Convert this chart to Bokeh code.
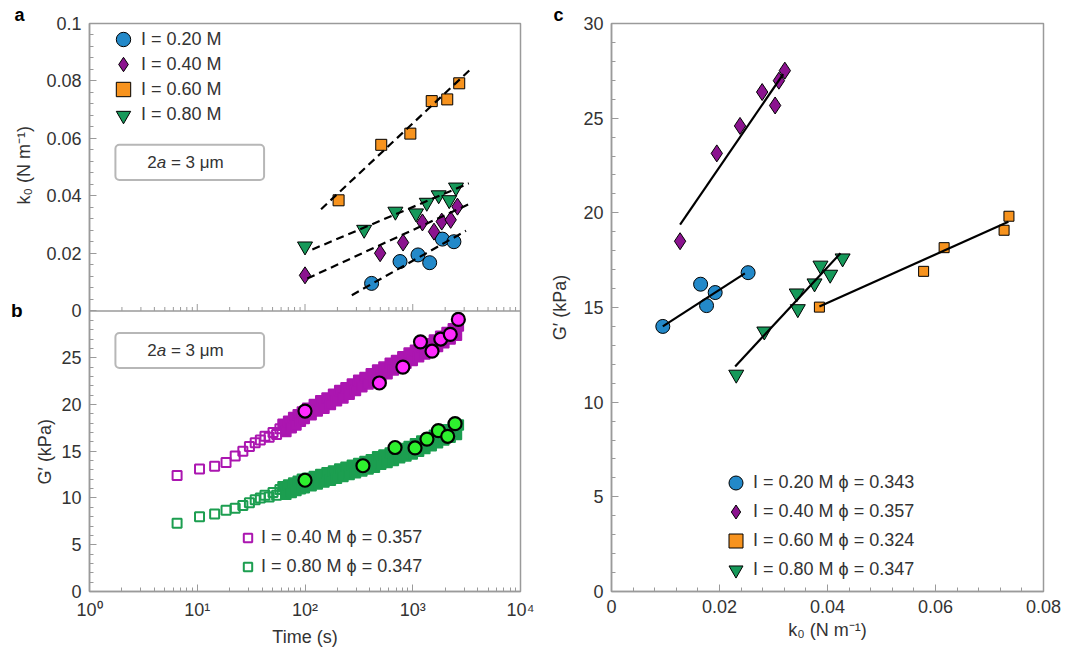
import math
from bokeh.plotting import figure
from bokeh.models import (Range1d, FixedTicker, CustomJSTickFormatter, Legend, LegendItem,
                          BoxAnnotation, Label, Span, LinearAxis, Title)
from bokeh.layouts import row
from bokeh.embed import file_html
from bokeh.resources import INLINE

# ----------------------------------------------------------------- data
# panel a : k0 (N/m) versus time (s)
a_t_020 = [415, 762, 1119, 1436, 1884, 2410]
a_k_020 = [0.0096, 0.0172, 0.0195, 0.0168, 0.0250, 0.0241]
a_t_040 = [100, 498, 813, 1230, 1575, 1858, 2249, 2600]
a_k_040 = [0.0124, 0.0201, 0.0238, 0.0308, 0.0276, 0.0311, 0.0317, 0.0363]
a_t_060 = [205, 510, 950, 1500, 2090, 2700]
a_k_060 = [0.0385, 0.0578, 0.0617, 0.0730, 0.0736, 0.0792]
a_t_080 = [100, 354, 690, 1072, 1350, 1740, 2180, 2520]
a_k_080 = [0.0225, 0.0283, 0.0346, 0.0340, 0.0377, 0.0403, 0.0386, 0.0430]
# panel a : dashed fits (end points)
fit_a_t_020 = [272, 3119]
fit_a_k_020 = [0.0055, 0.0279]
fit_a_t_040 = [105, 3484]
fit_a_k_040 = [0.0113, 0.0375]
fit_a_t_060 = [141, 3605]
fit_a_k_060 = [0.0354, 0.0848]
fit_a_t_080 = [117, 3312]
fit_a_k_080 = [0.0214, 0.0444]

# panel b : G' (kPa) versus time (s), bulk rheology (open squares)
b_time_early = [6.5, 10.5, 14.5, 18.5, 22.5, 26.5, 30.5, 34.5, 38.5, 42.5, 46.5, 50.5,
                54.5, 58.5]
b_g_040_early = [12.4, 13.1, 13.4, 13.8, 14.5, 15.0, 15.5, 15.9, 16.2, 16.6, 16.5, 17.0,
                 16.8, 17.4]
b_g_080_early = [7.3, 8.0, 8.3, 8.7, 8.9, 9.2, 9.5, 9.8, 10.0, 10.3, 10.1, 10.6,
                 10.3, 10.9]
b_time_dense = [62.5, 66.5, 70.5, 74.5, 78.5, 82.5, 86.5, 90.5, 94.5, 98.5, 106, 114,
                122, 130, 140, 150, 160, 172, 184, 196, 210, 225, 240, 257, 275, 294, 315,
                337, 360, 385, 412, 441, 472, 505, 540, 578, 618, 661, 707, 756, 809, 865,
                925, 990, 1059, 1133, 1212, 1296, 1387, 1484, 1587, 1698, 1816, 1943, 2079,
                2224, 2379, 2545, 2650]
b_g_040_dense = [17.9, 17.1, 18.2, 17.5, 18.6, 17.8, 18.9, 18.2, 19.2, 18.5,
                 19.6, 18.9, 20.0, 19.3, 20.4, 19.6, 20.7, 20.0, 21.1, 20.4, 21.5, 20.7,
                 21.8, 21.1, 22.2, 21.5, 22.6, 21.9, 22.9, 22.2, 23.3, 22.6, 23.7, 23.0,
                 24.0, 23.3, 24.4, 23.7, 24.7, 24.0, 25.1, 24.4, 25.5, 24.7, 25.8, 25.1,
                 26.2, 25.4, 26.5, 25.8, 26.9, 26.2, 27.3, 26.6, 27.7, 27.0, 28.1, 27.4,
                 28.4]
b_g_080_dense = [11.2, 10.4, 11.4, 10.6, 11.6, 10.8, 11.8, 11.0, 12.0, 11.1,
                 12.1, 11.3, 12.3, 11.5, 12.5, 11.7, 12.7, 11.9, 12.9, 12.1, 13.1, 12.3,
                 13.3, 12.5, 13.5, 12.7, 13.7, 12.9, 13.9, 13.1, 14.1, 13.3, 14.4, 13.6,
                 14.6, 13.8, 14.8, 14.0, 15.1, 14.3, 15.3, 14.5, 15.5, 14.7, 15.8, 15.0,
                 16.1, 15.3, 16.4, 15.6, 16.7, 15.9, 17.0, 16.2, 17.3, 16.5, 17.6, 16.8,
                 17.8]
# panel b : G' from microrheology (filled circles)
b_ct_040 = [100, 490, 810, 1180, 1510, 1820, 2230, 2650]
b_cg_040 = [19.3, 22.3, 24.0, 26.7, 25.7, 27.0, 27.5, 29.1]
b_ct_080 = [100, 345, 685, 1050, 1355, 1730, 2110, 2470]
b_cg_080 = [11.9, 13.45, 15.4, 15.35, 16.3, 17.2, 16.6, 17.95]

# panel c : G' (kPa) versus k0 (N/m)
c_k_020 = [0.0095, 0.0165, 0.0176, 0.0192, 0.0253]
c_g_020 = [14.0, 16.23, 15.1, 15.79, 16.84]
c_k_040 = [0.0127, 0.0195, 0.0238, 0.0279, 0.0303, 0.0310, 0.0321]
c_g_040 = [18.5, 23.14, 24.59, 26.38, 25.67, 26.98, 27.51]
c_k_060 = [0.0385, 0.0578, 0.0616, 0.0727, 0.0736]
c_g_060 = [15.02, 16.91, 18.16, 19.08, 19.82]
c_k_080 = [0.0231, 0.0283, 0.0345, 0.0343, 0.0376, 0.0387, 0.0405, 0.0428]
c_g_080 = [11.46, 13.74, 14.92, 15.75, 16.28, 17.22, 16.74, 17.6]
fit_c_k_020 = [0.0095, 0.0247]
fit_c_g_020 = [14.0, 16.8]
fit_c_k_040 = [0.0127, 0.0318]
fit_c_g_040 = [19.38, 27.33]
fit_c_k_060 = [0.0385, 0.0735]
fit_c_g_060 = [15.05, 19.53]
fit_c_k_080 = [0.0229, 0.0424]
fit_c_g_080 = [11.89, 17.86]

labels_a = ["I = 0.20 M", "I = 0.40 M", "I = 0.60 M", "I = 0.80 M"]
labels_b = ["I = 0.40 M ϕ = 0.357", "I = 0.80 M ϕ = 0.347"]
labels_c = ["I = 0.20 M ϕ = 0.343", "I = 0.40 M ϕ = 0.357",
            "I = 0.60 M ϕ = 0.324", "I = 0.80 M ϕ = 0.347"]

# ----------------------------------------------------------------- style
FONT = "Liberation Sans"
TXT = "#333333"
AX = "#9a9a9a"
C020, C040, C060, C080 = "#2389c9", "#8b138f", "#f7931e", "#16995a"
CB040, CB040F, CB080, CB080F = "#ab16b0", "#ff2bff", "#1c9e50", "#2ef02e"


def style_axis(ax):
    ax.axis_line_color = AX
    ax.axis_line_width = 1.5
    ax.major_tick_line_color = AX
    ax.minor_tick_line_color = AX
    ax.major_tick_in = 7
    ax.major_tick_out = 0
    ax.minor_tick_in = 4
    ax.minor_tick_out = 0
    ax.major_label_text_font = FONT
    ax.major_label_text_font_size = "18px"
    ax.major_label_text_color = TXT
    ax.major_label_standoff = 8
    ax.axis_label_text_font = FONT
    ax.axis_label_text_font_size = "18px"
    ax.axis_label_text_font_style = "normal"
    ax.axis_label_text_color = TXT


def add_legends(p, labels, renderers, centers, frame_bottom, x, glyph, standoff):
    # one legend per entry so that the row pitch can be smaller than the glyph box
    for lab, r, c in zip(labels, renderers, centers):
        p.add_layout(Legend(items=[LegendItem(label=lab, renderers=[r])],
                            location=(x, frame_bottom - c - glyph / 2),
                            glyph_width=glyph, glyph_height=glyph, label_height=glyph,
                            spacing=0, padding=0, margin=0, label_standoff=standoff,
                            border_line_color=None, background_fill_alpha=0,
                            label_text_font=FONT, label_text_font_size="18px",
                            label_text_color=TXT), "center")


def side_title(text, offset, standoff):
    return Title(text=text, align="left", offset=offset, standoff=standoff,
                 text_font=FONT, text_font_size="18px", text_font_style="normal",
                 text_color=TXT)


# ------------------------------------------------- panels a + b (one canvas)
B_PX, A_PX = 281, 288              # pixel heights of panel b and panel a
b_top = 30 * (B_PX + A_PX) / B_PX
a_start = -0.1 * B_PX / A_PX
A2B = (A_PX / 0.1) / (B_PX / 30.0)  # panel-b units per panel-a unit

pab = figure(width=540, height=653, x_axis_type="log", x_range=Range1d(1, 1e4),
             y_range=Range1d(0, b_top), output_backend="svg", toolbar_location=None,
             min_border_left=89, min_border_right=20, min_border_top=23,
             min_border_bottom=61)
pab.title = Title(text="a", align="left", offset=-75, standoff=-3, text_font=FONT,
                  text_font_size="18px", text_font_style="bold", text_color="black")
pab.extra_y_ranges = {"a": Range1d(a_start, 0.1)}
pab.grid.visible = False
pab.outline_line_color = AX
pab.outline_line_width = 1.5

xa = pab.xaxis[0]
style_axis(xa)
xa.axis_label = "Time (s)"
xa.axis_label_standoff = 4
decades = [1, 10, 100, 1000, 10000]
minor_log = [m * 10 ** d for d in range(4) for m in range(2, 10)]
xa.ticker = FixedTicker(ticks=decades, minor_ticks=minor_log)
xa.formatter = CustomJSTickFormatter(code="""
const sup = ["\u2070", "\u00b9", "\u00b2", "\u00b3", "\u2074"];
const e = Math.round(Math.log10(tick));
return "10" + sup[e];
""")

ya = pab.yaxis[0]
style_axis(ya)
ticks_b = [0, 5, 10, 15, 20, 25]
ticks_a = [0.0, 0.02, 0.04, 0.06, 0.08, 0.1]
minor_b = [v for v in range(1, 30) if v % 5 != 0]
minor_a = [30 + A2B * 0.004 * i for i in range(1, 25) if i % 5 != 0]
ya.ticker = FixedTicker(ticks=ticks_b + [30 + A2B * v for v in ticks_a],
                        minor_ticks=minor_b + minor_a)
ya.formatter = CustomJSTickFormatter(args=dict(s=A2B), code="""
if (tick < 29.9) { return String(Math.round(tick)); }
const v = (tick - 30) / s;
if (Math.abs(v) < 1e-9) { return "0"; }
return String(Math.round(v * 1000) / 1000);
""")

# y titles of panel b and panel a (side titles), then the panel letter b
pab.add_layout(side_title("G′ (kPa)", 107, -23), "left")
pab.add_layout(side_title("k₀ (N m⁻¹)", 387, 20), "left")
ax_letter = LinearAxis(ticker=FixedTicker(ticks=[30]),
                       formatter=CustomJSTickFormatter(code='return "b";'))
ax_letter.axis_line_color = None
ax_letter.major_tick_line_color = None
ax_letter.major_tick_in = 0
ax_letter.major_tick_out = 0
ax_letter.major_label_standoff = -21
ax_letter.major_label_text_font = FONT
ax_letter.major_label_text_font_size = "19px"
ax_letter.major_label_text_font_style = "bold"
ax_letter.major_label_text_color = "black"
pab.add_layout(ax_letter, "left")

# separator between panel a and panel b with its inward ticks
pab.add_layout(Span(location=30, dimension="width", line_color=AX, line_width=1.5))
sep_major = [10, 100, 1000]
pab.segment(x0=sep_major, x1=sep_major, y0=[30] * 3, y1=[30 + 7 / (B_PX / 30)] * 3,
            line_color=AX, line_width=1)
pab.segment(x0=minor_log, x1=minor_log, y0=[30] * len(minor_log),
            y1=[30 + 4 / (B_PX / 30)] * len(minor_log), line_color=AX, line_width=1)

# panel b
rb1 = pab.scatter(b_time_early, b_g_040_early, marker="square", size=9, fill_color=None,
                  line_color=CB040, line_width=2)
pab.scatter(b_time_dense, b_g_040_dense, marker="square", size=10, fill_color=CB040,
            line_color=CB040, line_width=1.5)
rb2 = pab.scatter(b_time_early, b_g_080_early, marker="square", size=9, fill_color=None,
                  line_color=CB080, line_width=2)
pab.scatter(b_time_dense, b_g_080_dense, marker="square", size=10, fill_color=CB080,
            line_color=CB080, line_width=1.5)
pab.scatter(b_ct_040, b_cg_040, marker="circle", size=13, fill_color=CB040F,
            line_color="black", line_width=2.2)
pab.scatter(b_ct_080, b_cg_080, marker="circle", size=13, fill_color=CB080F,
            line_color="black", line_width=2.2)

# panel a
ra1 = pab.scatter(a_t_020, a_k_020, y_range_name="a", marker="circle", size=14,
                  fill_color=C020, line_color="black", line_width=1)
ra2 = pab.scatter(a_t_040, a_k_040, y_range_name="a", marker="diamond", size=17,
                  fill_color=C040, line_color="black", line_width=1)
ra3 = pab.scatter(a_t_060, a_k_060, y_range_name="a", marker="square", size=11,
                  fill_color=C060, line_color="black", line_width=1)
ra4 = pab.scatter(a_t_080, a_k_080, y_range_name="a", marker="inverted_triangle",
                  size=15, fill_color=C080, line_color="black", line_width=1)
for ft, fk in [(fit_a_t_020, fit_a_k_020), (fit_a_t_040, fit_a_k_040),
               (fit_a_t_060, fit_a_k_060), (fit_a_t_080, fit_a_k_080)]:
    pab.line(ft, fk, y_range_name="a", line_color="black", line_width=2.2,
             line_dash="8 5")

add_legends(pab, labels_a, [ra1, ra2, ra3, ra4], [40, 65, 90, 115.5], 592, 16, 36, -2)
add_legends(pab, labels_b, [rb1, rb2], [538, 567], 592, 148, 21, 3)

# boxes "2a = 3 um"
BOX_L, BOX_R = 1.74, 41.7
for yname, bot, top in [("a", 0.0456, 0.0578), ("default", 23.91, 27.65)]:
    kw = {"y_range_name": yname} if yname != "default" else {}
    pab.add_layout(BoxAnnotation(left=BOX_L, right=BOX_R, bottom=bot, top=top,
                                 fill_color=None, line_color="#111111", line_width=2,
                                 border_radius=4, **kw))
    mid = (bot + top) / 2
    for txt, off, style in [("2", 31.8, "normal"), ("a", 41.3, "italic"),
                            ("= 3 μm", 55.5, "normal")]:
        pab.add_layout(Label(x=BOX_L, y=mid, x_offset=off, text=txt, text_font=FONT,
                             text_font_size="17px", text_font_style=style,
                             text_color=TXT, text_align="left", text_baseline="middle",
                             **kw))

# ----------------------------------------------------------------- panel c
pc = figure(width=540, height=653, x_range=Range1d(0, 0.08), y_range=Range1d(0, 30),
            output_backend="svg", toolbar_location=None,
            min_border_left=71, min_border_right=37, min_border_top=22,
            min_border_bottom=62)
pc.title = Title(text="c", align="left", offset=-58, standoff=-3, text_font=FONT,
                 text_font_size="18px", text_font_style="bold", text_color="black")
pc.grid.visible = False
pc.outline_line_color = AX
pc.outline_line_width = 1.5
xc, yc = pc.xaxis[0], pc.yaxis[0]
style_axis(xc)
style_axis(yc)
xc.axis_label = "k₀ (N m⁻¹)"
xc.axis_label_standoff = 4
yc.axis_label = "G′ (kPa)"
yc.axis_label_standoff = 10
xc.ticker = FixedTicker(ticks=[0, 0.02, 0.04, 0.06, 0.08],
                        minor_ticks=[0.004 * i for i in range(1, 20) if i % 5 != 0])
xc.formatter = CustomJSTickFormatter(code="""
if (Math.abs(tick) < 1e-9) { return "0"; }
return String(Math.round(tick * 1000) / 1000);
""")
yc.ticker = FixedTicker(ticks=[0, 5, 10, 15, 20, 25, 30],
                        minor_ticks=[v for v in range(1, 30) if v % 5 != 0])

rc1 = pc.scatter(c_k_020, c_g_020, marker="circle", size=14, fill_color=C020,
                 line_color="black", line_width=1)
rc2 = pc.scatter(c_k_040, c_g_040, marker="diamond", size=17, fill_color=C040,
                 line_color="black", line_width=1)
rc3 = pc.scatter(c_k_060, c_g_060, marker="square", size=10, fill_color=C060,
                 line_color="black", line_width=1)
rc4 = pc.scatter(c_k_080, c_g_080, marker="inverted_triangle", size=15,
                 fill_color=C080, line_color="black", line_width=1)
for fk, fg in [(fit_c_k_020, fit_c_g_020), (fit_c_k_040, fit_c_g_040),
               (fit_c_k_060, fit_c_g_060), (fit_c_k_080, fit_c_g_080)]:
    pc.line(fk, fg, line_color="black", line_width=2.2)

add_legends(pc, labels_c, [rc1, rc2, rc3, rc4], [482, 511, 540, 569], 591, 107, 35, -3)

layout = row(pab, pc, spacing=0)
open("out.html", "w").write(file_html(layout, INLINE, title="chart"))
